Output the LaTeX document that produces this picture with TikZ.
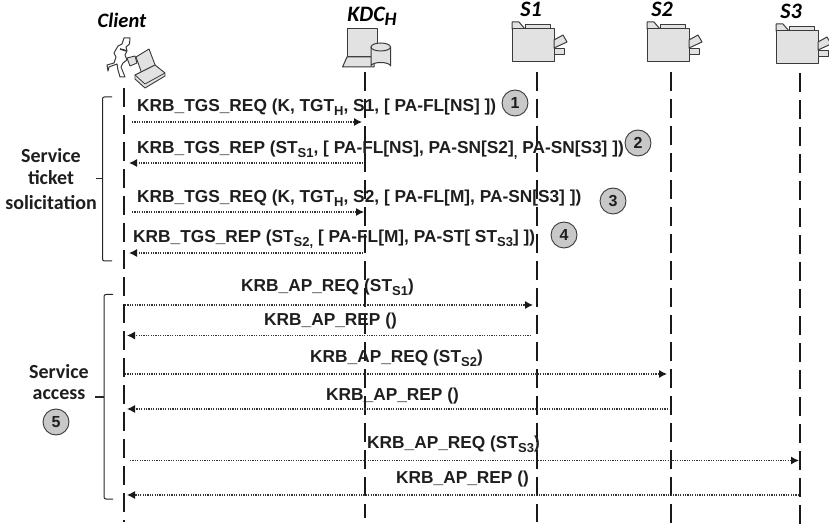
\documentclass[tikz,border=0pt]{standalone}
\usepackage{fontspec}
\setmainfont{Liberation Sans}
\newfontfamily\carl{Carlito}
\usetikzlibrary{arrows.meta}
\definecolor{figfill}{HTML}{E2E2E2}
\definecolor{figline}{HTML}{3A3A3A}
\definecolor{numfill}{HTML}{C8C8C8}
\definecolor{txt}{HTML}{1E1E1E}
\newcommand{\sbs}[1]{\raisebox{-4pt}{\fontsize{13}{14}\selectfont #1}}
\tikzset{
  x=1pt,y=-1pt,
  life/.style={line width=2pt,draw=black!90,dash pattern=on 19pt off 8pt},
  msg/.style={line width=1.1pt,draw=black!80,dash pattern=on 1.2pt off 1.2pt},
  tipped/.style={msg,-{Latex[length=8pt,width=8pt,black!90]}},
  lab/.style={anchor=base west,inner sep=0pt,font=\fontsize{17.3}{20}\selectfont\bfseries,text=txt},
  hdr/.style={inner sep=0pt,font=\carl\fontsize{22}{24}\selectfont\bfseries\itshape,text=black},
  side/.style={inner sep=0pt,font=\carl\fontsize{20}{22}\selectfont\bfseries,text=txt},
  num/.style={circle,draw=figline,line width=0.9pt,fill=numfill,minimum size=26pt,inner sep=0pt,font=\fontsize{16}{18}\selectfont\bfseries,text=txt},
  fig/.style={draw=figline,fill=figfill,line width=1pt,line join=round},
  brc/.style={draw=black!85,line width=1pt,rounded corners=2pt},
  printer/.pic={
    \draw[fig] (13,-4.5) -- (38,-4.5) -- (38,0) -- (13,0) -- cycle;
    \draw[fig] (0,-7) -- (7,-7) -- (13,0) -- (0,0) -- cycle;
    \draw[fig] (0,0) rectangle (42,33);
    \draw[fig] (42,11) -- (51,6) -- (55,13) -- (42,19) -- cycle;
    \draw[fig] (42,20) rectangle (52,25.5);
  }
}
\begin{document}
\begin{tikzpicture}
\useasboundingbox (0,0) rectangle (829,526);
% client figure
\draw[fig,line width=0.9pt] (136,57) -- (149,49) -- (155.5,66) -- (142,74) -- cycle;
\draw[fig,line width=0.9pt] (135,75) -- (155,65) -- (165,73) -- (165,76) -- (145,88) -- (135,79) -- cycle;
\draw[line width=0.8pt,figline] (135,75) -- (145,84) -- (165,73);
\draw[draw=figline,fill=white,line width=1pt,line join=round]
  (124,38) -- (130,38) -- (129.5,44) -- (126,47) -- (127,51) -- (125,55) -- (127,60) -- (123,63)
  -- (121,67) -- (123,72) -- (125,77) -- (120,77) -- (118,70) -- (117,64) -- (109,67) -- (108,71) -- (107,65)
  -- (114,63) -- (116,57) -- (114,53) -- (118,46) -- (122,44) -- cycle;
\draw[line width=1.6pt,figline] (120,49) -- (127,51);
\draw[fig,line width=0.9pt] (127,58) -- (135,56) -- (137,63) -- (130,66) -- cycle;
% KDC figure
\draw[fig] (347,29) rectangle (377,57);
\draw[fig] (347,57) -- (374,57) -- (374,67) -- (342.5,67) -- cycle;
\draw[fig] (371,47) -- (371,66) arc[start angle=180,end angle=360,x radius=9.75,y radius=3.5] -- (390.5,47) -- cycle;
\draw[fig] (380.75,47) ellipse[x radius=9.75,y radius=4];
% printers
\pic at (512,29) {printer};
\pic at (647,29) {printer};
\pic at (776,31) {printer};
% headers
\node[hdr,font=\carl\fontsize{20.5}{22}\selectfont\bfseries\itshape] (hc) at (122,20) {Client};
\node[hdr] (hk) at (372,16) {KDC\raisebox{-4pt}{\fontsize{19}{20}\selectfont H}};
\node[hdr] (h1) at (531,9) {S1};
\node[hdr] (h2) at (662,9) {S2};
\node[hdr] (h3) at (791,11) {S3};
% lifeline ends
\coordinate (cT) at (124,88);  \coordinate (cB) at (124,522);
\coordinate (kT) at (364.5,72); \coordinate (kB) at (364.5,518);
\coordinate (aT) at (536.5,72); \coordinate (aB) at (536.5,522);
\coordinate (bT) at (671,72);  \coordinate (bB) at (671,523);
\coordinate (dT) at (800,73);  \coordinate (dB) at (800,524);
\draw[life] (cT) -- (cB);
\draw[life] (kT) -- (kB);
\draw[life] (aT) -- (aB);
\draw[life] (bT) -- (bB);
\draw[life] (dT) -- (dB);
% message end points
\coordinate (m1a) at (132,122); \coordinate (m1b) at (362,122);
\coordinate (m2a) at (363,163); \coordinate (m2b) at (129,163);
\coordinate (m3a) at (132,212); \coordinate (m3b) at (364,212);
\coordinate (m4a) at (363,253); \coordinate (m4b) at (129,253);
\coordinate (m5a) at (125,305); \coordinate (m5b) at (533,305);
\coordinate (m6a) at (531,335.5); \coordinate (m6b) at (127,335.5);
\coordinate (m7a) at (125,374); \coordinate (m7b) at (667,374);
\coordinate (m8a) at (668,409); \coordinate (m8b) at (127,409);
\coordinate (m9a) at (130,460.5); \coordinate (m9b) at (799,460.5);
\coordinate (m10a) at (799,495); \coordinate (m10b) at (127,495);
\foreach \m in {1,...,10} {\draw[tipped] (m\m a) -- (m\m b);}
% labels
\node[lab] (l1) at (137,112) {KRB\_TGS\_REQ (K, TGT\sbs{H}, S1, [ PA-FL[NS] ])};
\node[lab] (l2) at (137,154) {KRB\_TGS\_REP (ST\sbs{S1}, [ PA-FL[NS], PA-SN[S2]\sbs{,} PA-SN[S3] ])};
\node[lab] (l3) at (137,203) {KRB\_TGS\_REQ (K, TGT\sbs{H}, S2, [ PA-FL[M], PA-SN[S3] ])};
\node[lab] (l4) at (133,243) {KRB\_TGS\_REP (ST\sbs{S2,} [ PA-FL[M], PA-ST[ ST\sbs{S3}] ])};
\node[lab] (l5) at (241,292) {KRB\_AP\_REQ (ST\sbs{S1})};
\node[lab] (l6) at (264,325) {KRB\_AP\_REP ()};
\node[lab] (l7) at (310,362) {KRB\_AP\_REQ (ST\sbs{S2})};
\node[lab] (l8) at (326,400) {KRB\_AP\_REP ()};
\node[lab] (l9) at (367,448) {KRB\_AP\_REQ (ST\sbs{S3})};
\node[lab] (l10) at (396,483) {KRB\_AP\_REP ()};
% step numbers
\node[num] (n1) at (515,103) {1};
\node[num] (n2) at (638,143) {2};
\node[num] (n3) at (613,201) {3};
\node[num] (n4) at (564,235) {4};
\node[num] (n5) at (56,422) {5};
% side brackets
\coordinate (b1t) at (112,97); \coordinate (b1b) at (112,261);
\draw[brc] (b1t) -- (102.5,97) -- (102.5,261) -- (b1b);
\draw[brc,rounded corners=0pt] (96,179) -- (102.5,179);
\coordinate (b2t) at (113,294.5); \coordinate (b2b) at (113,499);
\draw[brc] (b2t) -- (104,294.5) -- (104,499) -- (b2b);
\draw[brc,rounded corners=0pt,line width=1.3pt] (95,397) -- (104,397);
\node[side] (s1) at (51,156) {Service};
\node[side] (s2) at (51,178) {ticket};
\node[side] (s3) at (51,203) {solicitation};
\node[side] (s4) at (59,372) {Service};
\node[side] (s5) at (59,395) {access};
\end{tikzpicture}
\end{document}
